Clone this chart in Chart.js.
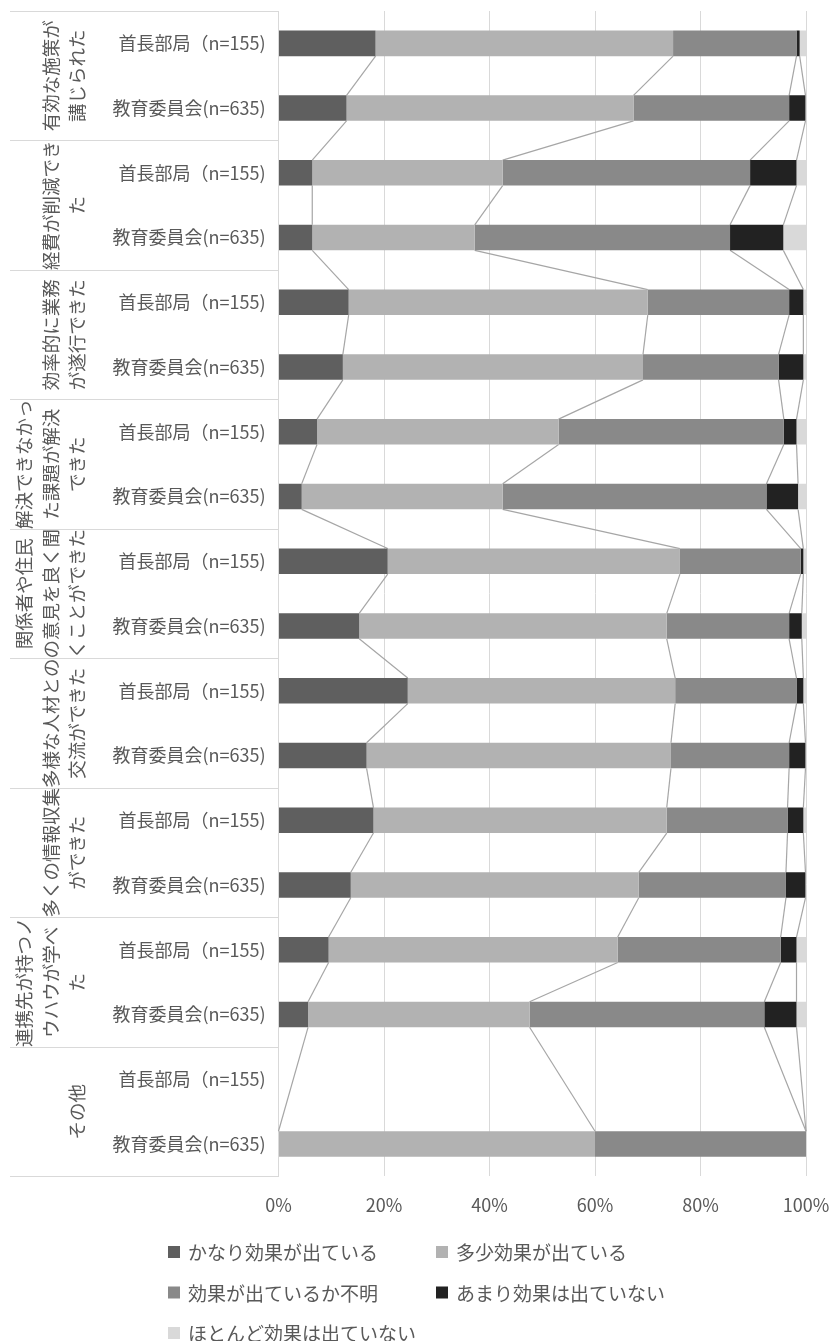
<!DOCTYPE html>
<html lang="ja">
<head>
<meta charset="utf-8">
<title>効果</title>
<script src="https://cdn.jsdelivr.net/npm/chart.js@4.4.1/dist/chart.umd.min.js"></script>
<style>
  html, body { margin: 0; padding: 0; background: #fff; }
  .chart-container { position: relative; width: 831px; height: 1341px; }
</style>
</head>
<body>
<div class="chart-container">
  <canvas id="chart"></canvas>
</div>
<script>
// category (tick) labels, one per bar
const categories = [
  '首長部局（n=155)', '教育委員会(n=635)',
  '首長部局（n=155)', '教育委員会(n=635)',
  '首長部局（n=155)', '教育委員会(n=635)',
  '首長部局（n=155)', '教育委員会(n=635)',
  '首長部局（n=155)', '教育委員会(n=635)',
  '首長部局（n=155)', '教育委員会(n=635)',
  '首長部局（n=155)', '教育委員会(n=635)',
  '首長部局（n=155)', '教育委員会(n=635)',
  '首長部局（n=155)', '教育委員会(n=635)'
];

// outer group labels, split into the lines shown in the picture
const groups = [
  ['有効な施策が', '講じられた'],
  ['経費が削減でき', 'た'],
  ['効率的に業務', 'が遂行できた'],
  ['解決できなかっ', 'た課題が解決', 'できた'],
  ['関係者や住民', 'の意見を良く聞', 'くことができた'],
  ['多様な人材との', '交流ができた'],
  ['多くの情報収集', 'ができた'],
  ['連携先が持つノ', 'ウハウが学べ', 'た'],
  ['その他']
];

const seriesNames = [
  'かなり効果が出ている',
  '多少効果が出ている',
  '効果が出ているか不明',
  'あまり効果は出ていない',
  'ほとんど効果は出ていない'
];

// values in %
const kanari   = [18.4, 12.9, 6.4, 6.4, 13.3, 12.2, 7.3, 4.4, 20.7, 15.3, 24.5, 16.7, 18.0, 13.7, 9.5, 5.6, null, 0];
const tashou   = [56.4, 54.4, 36.1, 30.8, 56.7, 56.9, 45.8, 38.1, 55.4, 58.3, 50.7, 57.7, 55.6, 54.6, 54.8, 42.0, null, 60.0];
const fumei    = [23.4, 29.5, 46.9, 48.4, 26.8, 25.7, 42.7, 50.0, 22.9, 23.2, 23.0, 22.4, 22.9, 27.9, 30.9, 44.5, null, 40.0];
const amari    = [0.6, 3.1, 8.8, 10.1, 2.7, 4.7, 2.4, 6.0, 0.5, 2.4, 1.3, 3.1, 3.0, 3.7, 3.0, 6.1, null, 0];
const hotondo  = [1.2, 0.1, 1.8, 4.3, 0.5, 0.5, 1.8, 1.5, 0.5, 0.8, 0.5, 0.1, 0.5, 0.1, 1.8, 1.8, null, 0];

const xTicks = [0, 20, 40, 60, 80, 100];

const colors = ['#5f5f5f', '#b2b2b2', '#898989', '#222222', '#d9d9d9'];
const textColor = '#595959';
const fontFamily = '"Noto Sans CJK JP", "Noto Sans", sans-serif';

Chart.defaults.font.family = fontFamily;
Chart.defaults.color = textColor;

const seriesData = [kanari, tashou, fumei, amari, hotondo];

// Excel style series lines between neighbouring bars
const seriesLines = {
  id: 'seriesLines',
  beforeDatasetsDraw(chart) {
    const { ctx } = chart;
    const xs = chart.scales.x;
    const bars = chart.getDatasetMeta(0).data;
    const filled = [];
    for (let i = 0; i < categories.length; i++) {
      if (kanari[i] !== null) filled.push(i);
    }
    const cum = (i, k) => {
      let s = 0;
      for (let j = 0; j <= k; j++) s += seriesData[j][i] || 0;
      return s;
    };
    ctx.save();
    ctx.strokeStyle = '#a6a6a6';
    ctx.lineWidth = 1.2;
    for (let n = 0; n < filled.length - 1; n++) {
      const a = filled[n], b = filled[n + 1];
      const ya = bars[a].y + bars[a].height / 2;
      const yb = bars[b].y - bars[b].height / 2;
      for (let k = 0; k < 4; k++) {
        ctx.beginPath();
        ctx.moveTo(xs.getPixelForValue(cum(a, k)), ya);
        ctx.lineTo(xs.getPixelForValue(cum(b, k)), yb);
        ctx.stroke();
      }
    }
    ctx.restore();
  }
};

// multi-level category labels on the left
const groupAxis = {
  id: 'groupAxis',
  afterDraw(chart) {
    const { ctx, chartArea } = chart;
    const ys = chart.scales.y;
    const row = ys.getPixelForValue(1) - ys.getPixelForValue(0);
    ctx.save();
    ctx.strokeStyle = '#d9d9d9';
    ctx.lineWidth = 1;
    ctx.fillStyle = textColor;
    ctx.font = '18.5px ' + fontFamily;
    ctx.textAlign = 'center';
    ctx.textBaseline = 'middle';
    groups.forEach((lines, g) => {
      const cy = (ys.getPixelForValue(2 * g) + ys.getPixelForValue(2 * g + 1)) / 2;
      [cy - row, cy + row].forEach(yy => {
        const py = Math.round(yy) + 0.5;
        ctx.beginPath();
        ctx.moveTo(10, py);
        ctx.lineTo(chartArea.left, py);
        ctx.stroke();
      });
      lines.forEach((t, j) => {
        const x = 77 - (lines.length - 1 - j) * 26.5;
        ctx.save();
        ctx.translate(x, cy);
        ctx.rotate(-Math.PI / 2);
        ctx.fillText(t, 0, 0);
        ctx.restore();
      });
    });
    ctx.restore();
  }
};

// legend laid out in two columns like the original
const gridLegend = {
  id: 'gridLegend',
  afterDraw(chart) {
    const { ctx } = chart;
    const top = chart.scales.x.bottom + 36;
    ctx.save();
    ctx.font = '19px ' + fontFamily;
    ctx.textBaseline = 'middle';
    ctx.textAlign = 'left';
    chart.data.datasets.forEach((ds, i) => {
      const x = 168 + (i % 2) * 268;
      const y = top + Math.floor(i / 2) * 40.5;
      ctx.fillStyle = ds.backgroundColor;
      ctx.fillRect(x, y - 6, 12, 12);
      ctx.fillStyle = textColor;
      ctx.fillText(ds.label, x + 20, y + 1);
    });
    ctx.restore();
  }
};

new Chart(document.getElementById('chart'), {
  type: 'bar',
  data: {
    labels: categories,
    datasets: seriesData.map((d, i) => ({
      label: seriesNames[i],
      data: d,
      backgroundColor: colors[i],
      borderWidth: 0,
      categoryPercentage: 1,
      barPercentage: 0.394
    }))
  },
  options: {
    indexAxis: 'y',
    responsive: true,
    maintainAspectRatio: false,
    animation: false,
    layout: { padding: { left: 10, right: 25, top: 11, bottom: 125 } },
    plugins: {
      legend: { display: false },
      tooltip: { enabled: false }
    },
    scales: {
      x: {
        stacked: true,
        min: 0,
        max: 100,
        afterBuildTicks: scale => { scale.ticks = xTicks.map(v => ({ value: v })); },
        ticks: {
          callback: v => v + '%',
          padding: 0,
          font: { size: 18 },
          color: textColor
        },
        grid: { color: '#d9d9d9', drawTicks: true, tickLength: 18, tickColor: 'rgba(0,0,0,0)' },
        border: { display: false }
      },
      y: {
        stacked: true,
        grid: { display: false, drawTicks: true, tickLength: 13 },
        border: { color: '#d9d9d9' },
        ticks: { padding: 0, font: { size: 18 }, color: textColor },
        afterFit: scale => { scale.width = 268.5; }
      }
    }
  },
  plugins: [seriesLines, groupAxis, gridLegend]
});
</script>
</body>
</html>
